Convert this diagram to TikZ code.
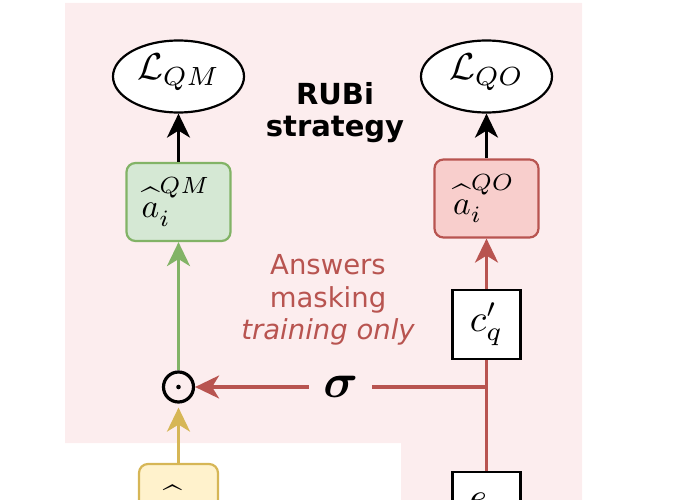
\documentclass[tikz,border=0pt]{standalone}
\usepackage{amsmath}
\usepackage{graphicx}
\usepackage{fontspec}
\newfontfamily\dejavu{DejaVu Sans}
\usetikzlibrary{shapes.geometric,arrows.meta}
\definecolor{pinkbg}{RGB}{252,237,238}
\definecolor{greenfill}{HTML}{D5E8D4}
\definecolor{greenline}{HTML}{82B366}
\definecolor{redfill}{HTML}{F8CECC}
\definecolor{redline}{HTML}{B85450}
\definecolor{yellowfill}{HTML}{FFF2CC}
\definecolor{yellowline}{HTML}{D6B656}
\newcommand{\mathbig}[2]{\scalebox{#1}{$#2$}}
\newcommand{\hata}{\widehat{\rule{0pt}{0.6em}a}}
\newcommand{\ahatsup}[1]{\hata\rlap{\raisebox{-0.26em}{$\scriptstyle i$}}\raisebox{0.71em}{$\scriptstyle #1$}\kern2pt}
\begin{document}
\begin{tikzpicture}[x=1pt,y=-1pt,
  tip/.style={-{Stealth[length=24pt,width=23pt,inset=7pt]}},
  lossnode/.style={ellipse, draw=black, line width=2.2pt, fill=white, minimum width=131pt, minimum height=72pt, inner sep=0pt},
  ansbox/.style={rectangle, rounded corners=9pt, line width=2.2pt, minimum width=104pt, minimum height=78pt, inner sep=0pt},
  sqbox/.style={rectangle, draw=black, line width=2.2pt, fill=white, minimum width=68pt, minimum height=69pt, inner sep=0pt},
  conn/.style={line width=3.1pt}
]
\useasboundingbox (0,0) rectangle (680,500);
% background
\fill[pinkbg] (65,3) -- (582,3) -- (582,500) -- (401,500) -- (401,443) -- (65,443) -- cycle;

% nodes
\node[lossnode] (LQM) at (178.5,76.5) {\mathbig{3.75}{\mathcal{L}_{QM}\rule[-0.5em]{0pt}{0pt}}};
\node[lossnode] (LQO) at (486.5,76.5) {\mathbig{3.75}{\mathcal{L}_{QO}\rule[-0.5em]{0pt}{0pt}}};
\node[ansbox, draw=greenline, fill=greenfill] (aQM) at (178.5,202) {\mathbig{3.35}{\ahatsup{QM}}};
\node[ansbox, draw=redline, fill=redfill] (aQO) at (486.5,198.5) {\mathbig{3.35}{\ahatsup{QO}}};
\node[sqbox] (cq) at (486.5,324.5) {\mathbig{3.8}{c'_q}};
\node[sqbox] (eq) at (486.5,506.5) {\mathbig{3.8}{e_q\rule[-0.29em]{0pt}{0pt}}};
\node[ansbox, draw=yellowline, fill=yellowfill, minimum width=79pt] (ahat) at (178.5,503) {\mathbig{3.35}{\hata_i}};
\node[circle, draw=black, line width=3.2pt, minimum size=30pt, inner sep=0pt] (odot) at (178.5,387) {};
\fill (odot.center) circle (2.3pt);
\coordinate (split) at (eq.north |- odot);

% texts
\node[font=\dejavu\bfseries\fontsize{29}{32}\selectfont, align=center, inner sep=0pt] (rubi) at (335,113) {RUBi\\strategy};
\node[font=\dejavu\fontsize{27.5}{32.5}\selectfont, text=redline, align=center, inner sep=0pt] (mask) at (328,300) {Answers\\masking\\\itshape training only};

% connectors
\draw[conn, tip, black] (aQM) -- (LQM);
\draw[conn, tip, black] (aQO) -- (LQO);
\draw[conn, tip, greenline] (odot) -- (aQM);
\draw[conn, tip, yellowline, shorten >=4pt] (ahat) -- (odot);
\draw[conn, redline] (eq.north) -- (cq.south);
\draw[conn, tip, redline] (cq) -- (aQO);
\draw[conn, tip, redline] (split) -- node[fill=pinkbg, inner xsep=14pt, inner ysep=2pt, text=black] (sig) {\mathbig{4.8}{\boldsymbol{\sigma}}} (odot);
\end{tikzpicture}
\end{document}
